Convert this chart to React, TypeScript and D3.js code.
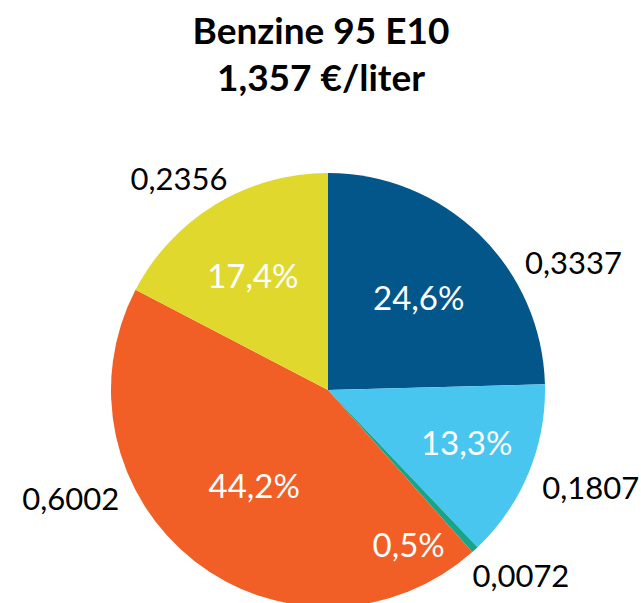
import { useEffect } from 'react'
import * as d3 from 'd3'

const labels = ['0,3337', '0,1807', '0,0072', '0,6002', '0,2356']
const values = [0.3337, 0.1807, 0.0072, 0.6002, 0.2356]
const colors = ['#02568a', '#48c6ef', '#15a58a', '#f15e26', '#e1d82e']
const titleLines = ['Benzine 95 E10', '1,357 €/liter']

// label placement tweaks (degrees / px), like the original's label collision shifts
const outerShift = [12.75, 1.8, 4.7, 24.8, 5.9]
const innerShift = [0, -2, 15, 0, -2]
const innerRadius = [130, 148, 174, 120, 137]

const width = 641
const height = 603
const cx = 328
const cy = 390
const radius = 217
const font = 'Lato, "Noto Sans", sans-serif'

const App = () => {
    useEffect(() => {
        document.body.style.margin = '0'
    }, [])

    const total = d3.sum(values)
    const pie = d3.pie<number>().sort(null).value((d) => d)
    const arcs = pie(values)
    const arc = d3.arc<d3.PieArcDatum<number>>().innerRadius(0).outerRadius(radius)
    const fmt = (v: number) => (Math.round((v / total) * 1000) / 10).toFixed(1).replace('.', ',') + '%'

    const polar = (deg: number, r: number) => {
        const a = (deg * Math.PI) / 180
        return [cx + r * Math.sin(a), cy - r * Math.cos(a)]
    }

    return (
        <svg width={width} height={height} style={{ display: 'block' }}>
            <rect width={width} height={height} fill='#fff' />
            {titleLines.map((t, i) => (
                <text
                    key={t}
                    x={width / 2 + 0.5}
                    y={44 + i * 47}
                    textAnchor='middle'
                    fontFamily={font}
                    fontWeight='bold'
                    fontSize={37}
                    fill='#000'
                >
                    {t}
                </text>
            ))}
            <g transform={`translate(${cx},${cy})`}>
                {arcs.map((d, i) => (
                    <path key={i} d={arc(d) as string} fill={colors[i]} />
                ))}
            </g>
            {arcs.map((d, i) => {
                const mid = (((d.startAngle + d.endAngle) / 2) * 180) / Math.PI
                const [x, y] = polar(mid + innerShift[i], innerRadius[i])
                return (
                    <text
                        key={'p' + i}
                        x={x}
                        y={y}
                        textAnchor='middle'
                        dominantBaseline='central'
                        fontFamily={font}
                        fontSize={33}
                        fill='#fff'
                    >
                        {fmt(d.value)}
                    </text>
                )
            })}
            {arcs.map((d, i) => {
                const mid = (((d.startAngle + d.endAngle) / 2) * 180) / Math.PI
                const ang = mid + outerShift[i]
                const [x, y] = polar(ang, radius + 18)
                return (
                    <text
                        key={'v' + i}
                        x={x}
                        y={y}
                        textAnchor={ang < 180 ? 'start' : 'end'}
                        dominantBaseline='central'
                        fontFamily={font}
                        fontSize={31}
                        fill='#000'
                    >
                        {labels[i]}
                    </text>
                )
            })}
        </svg>
    )
}

export default App
